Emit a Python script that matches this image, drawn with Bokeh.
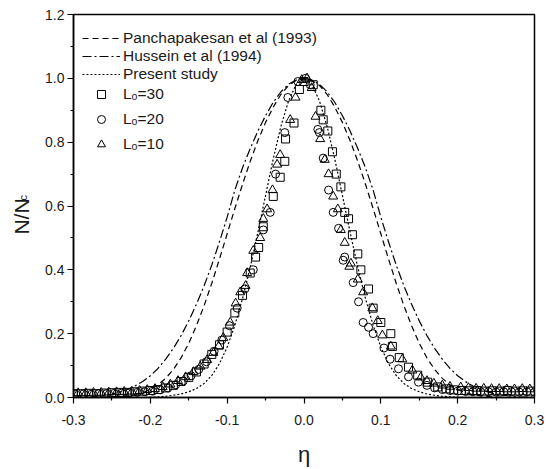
from bokeh.plotting import figure
from bokeh.models import FixedTicker, NumeralTickFormatter, Legend, LegendItem, Range1d, LinearAxis
from bokeh.embed import file_html
from bokeh.resources import INLINE

# ---- data ----
eta_curve = [-0.30, -0.29, -0.28, -0.27, -0.26, -0.25, -0.24, -0.23, -0.22, -0.21,
             -0.20, -0.19, -0.18, -0.17, -0.16, -0.15, -0.14, -0.13, -0.12, -0.11,
             -0.10, -0.09, -0.08, -0.07, -0.06, -0.05, -0.04, -0.03, -0.02, -0.01,
             0.00, 0.01, 0.02, 0.03, 0.04, 0.05, 0.06, 0.07, 0.08, 0.09,
             0.10, 0.11, 0.12, 0.13, 0.14, 0.15, 0.16, 0.17, 0.18, 0.19,
             0.20, 0.21, 0.22, 0.23, 0.24, 0.25, 0.26, 0.27, 0.28, 0.29, 0.30]

panchapakesan = [0.000, 0.000, 0.000, 0.000, 0.000, 0.001, 0.003, 0.005, 0.009, 0.015,
                 0.025, 0.040, 0.060, 0.088, 0.124, 0.170, 0.225, 0.288, 0.358, 0.434,
                 0.513, 0.592, 0.668, 0.740, 0.805, 0.862, 0.910, 0.950, 0.978, 0.994,
                 1.000, 0.994, 0.978, 0.950, 0.910, 0.862, 0.805, 0.740, 0.668, 0.592,
                 0.513, 0.434, 0.358, 0.288, 0.225, 0.170, 0.124, 0.088, 0.060, 0.040,
                 0.025, 0.015, 0.009, 0.005, 0.003, 0.001, 0.000, 0.000, 0.000, 0.000, 0.000]

hussein = [0.001, 0.001, 0.002, 0.004, 0.007, 0.011, 0.017, 0.025, 0.036, 0.050,
           0.068, 0.091, 0.120, 0.154, 0.194, 0.240, 0.292, 0.350, 0.415, 0.488,
           0.565, 0.650, 0.720, 0.780, 0.835, 0.883, 0.925, 0.958, 0.982, 0.995,
           1.000, 0.995, 0.982, 0.958, 0.925, 0.883, 0.835, 0.780, 0.720, 0.650,
           0.565, 0.488, 0.415, 0.350, 0.292, 0.240, 0.194, 0.154, 0.120, 0.091,
           0.068, 0.050, 0.036, 0.025, 0.017, 0.011, 0.007, 0.004, 0.002, 0.001, 0.001]

present = [0.000, 0.000, 0.000, 0.000, 0.000, 0.000, 0.000, 0.000, 0.000, 0.000,
           0.001, 0.002, 0.004, 0.007, 0.011, 0.018, 0.028, 0.044, 0.069, 0.106,
           0.158, 0.226, 0.310, 0.408, 0.518, 0.633, 0.748, 0.850, 0.930, 0.982,
           1.000, 0.982, 0.930, 0.850, 0.748, 0.633, 0.518, 0.408, 0.310, 0.226,
           0.158, 0.106, 0.069, 0.044, 0.028, 0.018, 0.011, 0.007, 0.004, 0.002,
           0.001, 0.000, 0.000, 0.000, 0.000, 0.000, 0.000, 0.000, 0.000, 0.000, 0.000]

sq_eta = [-0.300, -0.290, -0.280, -0.270, -0.260, -0.250, -0.240, -0.230, -0.220, -0.210,
          -0.200, -0.190, -0.180, -0.170, -0.160, -0.150, -0.140, -0.130, -0.120, -0.110,
          -0.100, -0.090, -0.080, -0.070, -0.063, -0.059, -0.053, -0.040, -0.031, -0.025,
          -0.024, -0.013, -0.006, 0.000, 0.012, 0.022, 0.025, 0.031, 0.037, 0.042,
          0.048, 0.053, 0.058, 0.063, 0.070, 0.074, 0.084, 0.090, 0.100, 0.113,
          0.115, 0.124, 0.136, 0.148, 0.161, 0.174, 0.185, 0.195, 0.205, 0.215,
          0.225, 0.235, 0.245, 0.255, 0.265, 0.275, 0.285, 0.295]
sq_n = [0.012, 0.012, 0.013, 0.012, 0.014, 0.015, 0.016, 0.016, 0.018, 0.020,
        0.022, 0.025, 0.030, 0.038, 0.050, 0.063, 0.080, 0.105, 0.135, 0.165,
        0.205, 0.265, 0.320, 0.390, 0.440, 0.470, 0.535, 0.630, 0.690, 0.740,
        0.810, 0.860, 0.965, 0.990, 0.980, 0.900, 0.870, 0.835, 0.770, 0.700,
        0.660, 0.580, 0.560, 0.510, 0.450, 0.400, 0.340, 0.280, 0.235, 0.200,
        0.160, 0.125, 0.095, 0.070, 0.048, 0.033, 0.027, 0.024, 0.022, 0.021,
        0.022, 0.020, 0.021, 0.020, 0.022, 0.020, 0.021, 0.020]

ci_eta = [-0.297, -0.287, -0.277, -0.267, -0.257, -0.247, -0.237, -0.227, -0.217, -0.207,
          -0.197, -0.187, -0.177, -0.167, -0.157, -0.147, -0.137, -0.127, -0.117, -0.107,
          -0.097, -0.087, -0.077, -0.066, -0.053, -0.044, -0.037, -0.025, -0.021, -0.008,
          0.002, 0.008, 0.018, 0.020, 0.025, 0.032, 0.038, 0.045, 0.051, 0.053,
          0.064, 0.071, 0.077, 0.084, 0.090, 0.104, 0.112, 0.123, 0.136, 0.149,
          0.160, 0.170, 0.180, 0.190, 0.200, 0.210, 0.220, 0.230, 0.240, 0.250,
          0.260, 0.270, 0.280, 0.290, 0.300]
ci_n = [0.010, 0.011, 0.010, 0.012, 0.012, 0.013, 0.014, 0.015, 0.016, 0.018,
        0.020, 0.024, 0.030, 0.040, 0.052, 0.068, 0.088, 0.112, 0.145, 0.180,
        0.225, 0.280, 0.340, 0.400, 0.525, 0.580, 0.700, 0.830, 0.940, 0.990,
        1.000, 0.980, 0.840, 0.830, 0.750, 0.650, 0.580, 0.530, 0.430, 0.440,
        0.360, 0.300, 0.235, 0.220, 0.200, 0.155, 0.120, 0.090, 0.065, 0.048,
        0.038, 0.030, 0.025, 0.022, 0.020, 0.019, 0.018, 0.018, 0.018, 0.017,
        0.018, 0.018, 0.017, 0.018, 0.017]

tr_eta = [-0.294, -0.284, -0.274, -0.264, -0.254, -0.244, -0.234, -0.224, -0.214, -0.204,
          -0.194, -0.184, -0.174, -0.164, -0.154, -0.144, -0.135, -0.126, -0.118, -0.111,
          -0.105, -0.096, -0.089, -0.083, -0.076, -0.074, -0.066, -0.057, -0.053, -0.048,
          -0.041, -0.035, -0.031, -0.018, -0.011, -0.003, 0.004, 0.010, 0.015, 0.021,
          0.027, 0.032, 0.038, 0.044, 0.048, 0.053, 0.059, 0.061, 0.070, 0.077,
          0.089, 0.096, 0.102, 0.113, 0.128, 0.141, 0.152, 0.160, 0.169, 0.180,
          0.190, 0.204, 0.214, 0.224, 0.234, 0.244, 0.254, 0.264, 0.274, 0.284, 0.294]
tr_n = [0.014, 0.014, 0.015, 0.015, 0.016, 0.017, 0.018, 0.019, 0.021, 0.024,
        0.027, 0.033, 0.041, 0.052, 0.064, 0.080, 0.097, 0.118, 0.140, 0.160,
        0.187, 0.235, 0.295, 0.330, 0.350, 0.390, 0.460, 0.500, 0.560, 0.590,
        0.650, 0.730, 0.760, 0.870, 0.940, 0.995, 1.000, 0.970, 0.880, 0.810,
        0.745, 0.700, 0.630, 0.590, 0.525, 0.485, 0.410, 0.420, 0.370, 0.330,
        0.280, 0.240, 0.195, 0.160, 0.120, 0.085, 0.063, 0.052, 0.044, 0.038,
        0.034, 0.032, 0.030, 0.028, 0.028, 0.027, 0.027, 0.026, 0.026, 0.027, 0.026]

x_ticks = [-0.3, -0.2, -0.1, 0.0, 0.1, 0.2, 0.3]
x_minor = [-0.25, -0.15, -0.05, 0.05, 0.15, 0.25]
y_ticks = [0.0, 0.2, 0.4, 0.6, 0.8, 1.0, 1.2]
y_minor = [0.1, 0.3, 0.5, 0.7, 0.9, 1.1]

legend_lines = ["Panchapakesan et al (1993)", "Hussein et al (1994)", "Present study"]
legend_marks = ["L\u2092=30", "L\u2092=20", "L\u2092=10"]
y_label_main = "N/N"
y_label_sub = "c"

FONT = "Liberation Sans"
TXT = "#1a1a1a"

p = figure(width=551, height=469, x_range=Range1d(-0.3, 0.3), y_range=Range1d(0, 1.2),
           output_backend="svg", toolbar_location=None,
           min_border_left=73, min_border_right=17, min_border_top=14, min_border_bottom=72)
p.background_fill_color = "white"
p.border_fill_color = "white"
p.xgrid.visible = False
p.ygrid.visible = False
p.outline_line_color = "black"
p.outline_line_width = 1.5
p.outline_line_alpha = 1.0

for ax, tk, mn in ((p.xaxis[0], x_ticks, x_minor), (p.yaxis[0], y_ticks, y_minor)):
    ax.ticker = FixedTicker(ticks=tk, minor_ticks=mn)
    ax.formatter = NumeralTickFormatter(format="0.0")
    ax.axis_line_color = "black"
    ax.axis_line_width = 1.5
    ax.major_tick_line_color = "black"
    ax.major_tick_line_width = 1.2
    ax.minor_tick_line_color = "black"
    ax.minor_tick_line_width = 1.2
    ax.major_tick_in = 0
    ax.major_tick_out = 6
    ax.minor_tick_in = 0
    ax.minor_tick_out = 3
    ax.major_label_text_font = FONT
    ax.major_label_text_font_size = "14px"
    ax.major_label_text_color = TXT

p.xaxis.major_label_standoff = 11
p.yaxis.major_label_standoff = 3
p.xaxis.axis_label = "\u03b7"
p.xaxis.axis_label_text_font = FONT
p.xaxis.axis_label_text_font_size = "22px"
p.xaxis.axis_label_text_font_style = "normal"
p.xaxis.axis_label_text_color = TXT
p.xaxis.axis_label_standoff = 14

# subscript "c" carried by the inner (ticked) y axis, shifted to the top end of N/N
p.yaxis.axis_label = "\u2003\u2002" + y_label_sub
p.yaxis.axis_label_text_font = FONT
p.yaxis.axis_label_text_font_size = "11px"
p.yaxis.axis_label_text_font_style = "normal"
p.yaxis.axis_label_text_color = TXT
p.yaxis.axis_label_standoff = 13

# "N/N" carried by an outer, tick-less axis
ylab = LinearAxis(ticker=FixedTicker(ticks=[]), axis_label=y_label_main + "\u2002\u2002")
ylab.axis_line_alpha = 0
ylab.major_tick_out = 0
ylab.major_tick_in = 0
ylab.minor_tick_out = 0
ylab.minor_tick_in = 0
ylab.major_label_standoff = 0
ylab.axis_label_text_font = FONT
ylab.axis_label_text_font_size = "21px"
ylab.axis_label_text_font_style = "normal"
ylab.axis_label_text_color = TXT
ylab.axis_label_standoff = -18
p.add_layout(ylab, "left")

# curves
r1 = p.line(eta_curve, panchapakesan, line_color="black", line_width=1.2, line_dash="6 4")
r2 = p.line(eta_curve, hussein, line_color="black", line_width=1.2, line_dash="9 3 2 3")
r3 = p.line(eta_curve, present, line_color="black", line_width=1.2, line_dash="2 2")

# data points
m1 = p.scatter(sq_eta, sq_n, marker="square", size=8, line_color="black", line_width=1,
               fill_alpha=0)
m2 = p.scatter(ci_eta, ci_n, marker="circle", size=8, line_color="black", line_width=1,
               fill_alpha=0)
m3 = p.scatter(tr_eta, tr_n, marker="triangle", size=9, line_color="black", line_width=1,
               fill_alpha=0)


def style_legend(lg):
    lg.border_line_alpha = 0
    lg.background_fill_alpha = 0
    lg.margin = 0
    lg.padding = 9
    lg.glyph_width = 38
    lg.label_standoff = 3
    lg.label_text_font = FONT
    lg.label_text_font_size = "15.5px"
    lg.label_text_color = TXT


leg1 = Legend(items=[LegendItem(label=legend_lines[0], renderers=[r1]),
                     LegendItem(label=legend_lines[1], renderers=[r2]),
                     LegendItem(label=legend_lines[2], renderers=[r3])],
              location=(0, 305))
style_legend(leg1)
leg1.glyph_height = 18
leg1.label_height = 18
leg1.spacing = 0

leg2 = Legend(items=[LegendItem(label=legend_marks[0], renderers=[m1]),
                     LegendItem(label=legend_marks[1], renderers=[m2]),
                     LegendItem(label=legend_marks[2], renderers=[m3])],
              location=(0, 232))
style_legend(leg2)
leg2.glyph_height = 20
leg2.label_height = 25
leg2.spacing = 0

p.add_layout(leg1)
p.add_layout(leg2)

open("out.html", "w").write(file_html(p, INLINE))
